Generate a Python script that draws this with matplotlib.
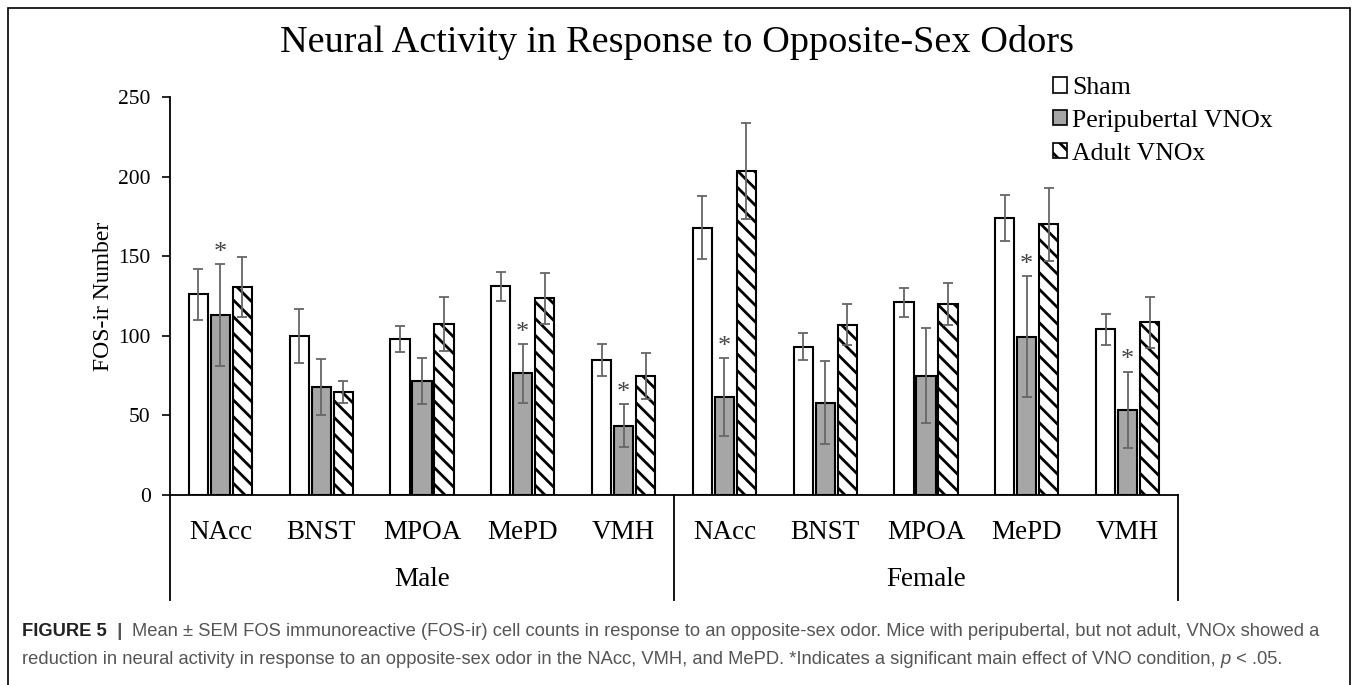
import matplotlib
matplotlib.use("Agg")
import matplotlib.pyplot as plt
from matplotlib.patches import Patch, Rectangle
from matplotlib.lines import Line2D

# data (mean and SEM per region, Male then Female)
regions = ['NAcc', 'BNST', 'MPOA', 'MePD', 'VMH']
sexes = ['Male', 'Female']
sham_mean = [126, 100, 98, 131, 85, 168, 93, 121, 174, 104]
sham_sem = [16, 17, 8, 9, 10, 20, 8.5, 9, 14.5, 10]
peri_mean = [113, 68, 71.5, 76.5, 43.5, 61.5, 58, 75, 99.5, 53.5]
peri_sem = [32, 17.5, 14.5, 18.5, 13.5, 24.5, 26, 30, 38, 24]
adult_mean = [130.5, 64.5, 107.5, 123.5, 75, 203.5, 107, 120, 170, 108.5]
adult_sem = [19, 7, 17, 16, 14.5, 30, 13, 13, 23, 16]
significant = [True, False, False, True, True, True, False, False, True, True]
legend_labels = ['Sham', 'Peripubertal VNOx', 'Adult VNOx']

plt.rcParams['font.family'] = ['Liberation Serif', 'DejaVu Serif']
plt.rcParams['hatch.linewidth'] = 2.0

W, H = 1354, 685
fig = plt.figure(figsize=(W / 100, H / 100), dpi=100)
ax_l, ax_r, ax_t, ax_b = 170, 1178, 97, 495
ax = fig.add_axes([ax_l / W, 1 - ax_b / H, (ax_r - ax_l) / W, (ax_b - ax_t) / H])

n = len(regions) * len(sexes)
x = list(range(n))
bw = 0.19
off = 0.218
ekw = dict(ecolor='#666666', elinewidth=1.3, capsize=3.5, capthick=1.3)

ax.bar([i - off for i in x], sham_mean, bw, yerr=sham_sem, color='white',
       edgecolor='black', linewidth=1.5, error_kw=ekw)
ax.bar(x, peri_mean, bw, yerr=peri_sem, color='#a6a6a6',
       edgecolor='black', linewidth=1.5, error_kw=ekw)
ax.bar([i + off for i in x], adult_mean, bw, yerr=adult_sem, color='white',
       edgecolor='black', linewidth=1.5, hatch='\\\\', error_kw=ekw)

for i in x:
    if significant[i]:
        ax.text(i, peri_mean[i] + peri_sem[i] + 7, '*', ha='center', va='center',
                fontsize=19, color='#444444')

ax.set_xlim(-0.5, n - 0.5)
ax.set_ylim(0, 250)
ax.set_yticks([0, 50, 100, 150, 200, 250])
ax.tick_params(axis='y', direction='out', length=6, width=1.2, labelsize=15.5, pad=8)
ax.set_xticks(x)
ax.set_xticklabels(regions * len(sexes))
ax.tick_params(axis='x', length=0, labelsize=19.5, pad=18)
ax.spines['top'].set_visible(False)
ax.spines['right'].set_visible(False)
ax.spines['left'].set_linewidth(1.3)
ax.spines['bottom'].set_linewidth(1.3)

ax.set_ylabel('FOS-ir Number', fontsize=17)
ax.yaxis.set_label_coords((114 - ax_l) / (ax_r - ax_l), 0.5)

# group table below the axis
axh = ax_b - ax_t
tb = ax.get_xaxis_transform()
for xv in [-0.5, 4.5, 9.5]:
    ax.add_line(Line2D([xv, xv], [0, -(600 - ax_b) / axh], transform=tb,
                       color='black', linewidth=1.3, clip_on=False))
for k, s in enumerate(sexes):
    ax.text(2 + 5 * k, -(580 - ax_b) / axh, s, transform=tb, ha='center',
            va='center', fontsize=19.5)

handles = [Patch(facecolor='white', edgecolor='black', linewidth=1.2),
           Patch(facecolor='#a6a6a6', edgecolor='black', linewidth=1.2),
           Patch(facecolor='white', edgecolor='black', linewidth=1.2, hatch='\\\\')]
fig.legend(handles, legend_labels, loc='upper left',
           bbox_to_anchor=(1053 / W, 1 - 77 / H), frameon=False, fontsize=18.5,
           handlelength=0.55, handleheight=0.55, handletextpad=0.2,
           labelspacing=0.42, borderpad=0, borderaxespad=0)

fig.text(677 / W, 1 - 42 / H,
         'Neural Activity in Response to Opposite-Sex Odors',
         ha='center', va='center', fontsize=27.5)

# outer frame
fig.add_artist(Rectangle((8 / W, -0.05), (1350 - 8) / W, 0.05 + 1 - 8 / H,
                         transform=fig.transFigure, fill=False,
                         edgecolor='black', linewidth=1.2))

# caption
cap = dict(family=['Liberation Sans', 'DejaVu Sans'], fontsize=13.2)
grey = '#555555'
t = fig.text(22 / W, 1 - 632 / H, 'FIGURE 5', fontweight='bold', color='#222222',
             va='center', **cap)
t = ax.annotate('  |  ', xy=(1, 0), xycoords=t, va='bottom', color=grey,
                fontweight='bold', annotation_clip=False, **cap)
ax.annotate('Mean \u00b1 SEM FOS immunoreactive (FOS-ir) cell counts in response to an '
            'opposite-sex odor. Mice with peripubertal, but not adult, VNOx showed a',
            xy=(1, 0), xycoords=t, va='bottom', color=grey, annotation_clip=False, **cap)
t = fig.text(22 / W, 1 - 660 / H,
             'reduction in neural activity in response to an opposite-sex odor in the NAcc, '
             'VMH, and MePD. *Indicates a significant main effect of VNO condition, ',
             color=grey, va='center', **cap)
t = ax.annotate('p', xy=(1, 0), xycoords=t, va='bottom', color=grey, style='italic',
                annotation_clip=False, **cap)
ax.annotate(' < .05.', xy=(1, 0), xycoords=t, va='bottom', color=grey,
            annotation_clip=False, **cap)

fig.savefig('out.png', dpi=100)
